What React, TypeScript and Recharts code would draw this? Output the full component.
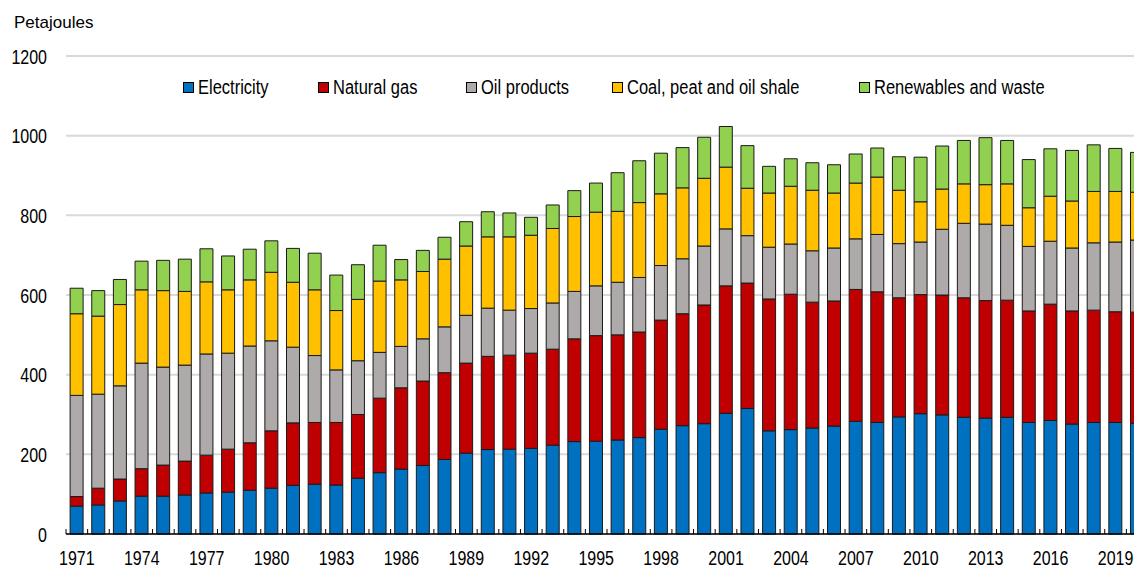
import React from 'react';
import { BarChart, Bar, XAxis, YAxis, CartesianGrid, Legend } from 'recharts';

const years = [
  1971, 1972, 1973, 1974, 1975, 1976, 1977, 1978, 1979, 1980,
  1981, 1982, 1983, 1984, 1985, 1986, 1987, 1988, 1989, 1990,
  1991, 1992, 1993, 1994, 1995, 1996, 1997, 1998, 1999, 2000,
  2001, 2002, 2003, 2004, 2005, 2006, 2007, 2008, 2009, 2010,
  2011, 2012, 2013, 2014, 2015, 2016, 2017, 2018, 2019, 2020,
];

const electricity = [
  70, 73, 83, 95, 95, 98, 103, 105, 110, 115,
  122, 125, 123, 140, 154, 163, 172, 187, 203, 212,
  213, 215, 223, 232, 233, 236, 242, 263, 272, 277,
  303, 315, 259, 262, 266, 271, 283, 280, 294, 302,
  299, 293, 291, 293, 280, 285, 276, 280, 280, 278,
];

const naturalGas = [
  24, 42, 55, 69, 78, 85, 95, 108, 119, 144,
  157, 155, 157, 160, 187, 204, 212, 218, 226, 234,
  236, 239, 241, 258, 265, 264, 265, 274, 281, 298,
  320, 315, 331, 340, 316, 314, 331, 328, 299, 299,
  301, 300, 295, 294, 280, 292, 284, 282, 278, 279,
];

const oilProducts = [
  254, 236, 234, 265, 246, 241, 254, 241, 243, 226,
  190, 168, 132, 135, 115, 104, 106, 115, 120, 121,
  113, 112, 116, 119, 125, 132, 137, 137, 138, 148,
  143, 119, 130, 126, 129, 133, 127, 144, 136, 132,
  165, 187, 192, 188, 162, 158, 158, 169, 175, 181,
];

const coalPeatOilShale = [
  205, 196, 204, 184, 192, 185, 181, 159, 166, 172,
  163, 165, 149, 154, 179, 167, 169, 170, 174, 179,
  184, 184, 187, 188, 185, 178, 188, 180, 178, 170,
  155, 119, 136, 145, 152, 138, 140, 144, 134, 101,
  101, 99, 99, 104, 97, 113, 118, 129, 127, 120,
];

const renewablesWaste = [
  64, 64, 63, 72, 76, 81, 83, 85, 77, 79,
  85, 92, 89, 87, 90, 51, 53, 55, 61, 63,
  60, 45, 59, 65, 73, 97, 105, 102, 101, 103,
  102, 107, 67, 69, 69, 71, 73, 73, 84, 112,
  108, 109, 118, 109, 121, 119, 127, 117, 108, 100,
];

const yTicks = [0, 200, 400, 600, 800, 1000, 1200];

const series = [
  { key: 'electricity', name: 'Electricity', color: '#0070C0' },
  { key: 'naturalGas', name: 'Natural gas', color: '#C00000' },
  { key: 'oilProducts', name: 'Oil products', color: '#ADAAA9' },
  { key: 'coal', name: 'Coal, peat and oil shale', color: '#FFC000' },
  { key: 'renewables', name: 'Renewables and waste', color: '#92D050' },
];

const data = years.map((year, i) => ({
  year,
  electricity: electricity[i],
  naturalGas: naturalGas[i],
  oilProducts: oilProducts[i],
  coal: coalPeatOilShale[i],
  renewables: renewablesWaste[i],
}));

const FONT = '"Liberation Sans", Arial, sans-serif';
const CHART_W = 1148;
const CHART_H = 568;
const Y_AXIS_W = 66;
const BAND = (CHART_W - Y_AXIS_W) / years.length;
// the original's labels are a tall, narrow face; stretch regular Arial to match
const STRETCH = 1.3;

// legend item widths so the swatches line up with the original
const legendWidths = [135, 148, 146, 247, 220];

const renderLegend = () => (
  <div style={{ display: 'flex', alignItems: 'center', fontFamily: FONT, fontSize: 16.5, color: '#000' }}>
    {series.map((s, i) => (
      <div key={s.key} style={{ display: 'flex', alignItems: 'center', width: legendWidths[i], lineHeight: '20px' }}>
        <span
          style={{
            display: 'inline-block',
            width: 9,
            height: 9,
            background: s.color,
            border: '1px solid #000',
            marginRight: 4,
          }}
        />
        <span style={{ whiteSpace: 'nowrap', display: 'inline-block', transform: 'scaleY(1.2)' }}>{s.name}</span>
      </div>
    ))}
  </div>
);

const YearTick = (props: any) => {
  const { x, y, payload } = props;
  const left = x - BAND / 2;
  const showLabel = (Number(payload.value) - 1971) % 3 === 0;
  return (
    <g>
      <line x1={left} x2={left} y1={y} y2={y - 5} stroke="#000" strokeWidth={1} />
      {showLabel && (
        <text
          transform={`translate(${x},${y + 31}) scale(1,${STRETCH})`}
          textAnchor="middle"
          fontSize={16}
          fontFamily={FONT}
          fill="#000"
        >
          {payload.value}
        </text>
      )}
    </g>
  );
};

const ValueTick = (props: any) => {
  const { x, y, payload } = props;
  return (
    <text
      transform={`translate(${x},${y + 7.5}) scale(1,${STRETCH})`}
      textAnchor="end"
      fontSize={16}
      fontFamily={FONT}
      fill="#000"
    >
      {payload.value}
    </text>
  );
};

export default function App() {
  return (
    <div
      style={{
        position: 'absolute',
        left: 0,
        top: 0,
        width: 1134,
        height: 568,
        overflow: 'hidden',
        background: '#fff',
        fontFamily: FONT,
      }}
    >
      <div style={{ position: 'absolute', left: 14, top: 13, fontSize: 17, color: '#000', zIndex: 2 }}>
        Petajoules
      </div>
      <BarChart
        width={CHART_W}
        height={CHART_H}
        data={data}
        margin={{ top: 56, right: 0, left: 0, bottom: 0 }}
        barCategoryGap="19%"
      >
        <CartesianGrid vertical={false} stroke="#d9d9d9" strokeWidth={2} />
        <XAxis
          dataKey="year"
          interval={0}
          height={34}
          tickSize={0}
          tickMargin={0}
          tickLine={false}
          axisLine={{ stroke: '#000', strokeWidth: 1.5 }}
          tick={<YearTick />}
        />
        <YAxis
          width={Y_AXIS_W}
          domain={[0, 1200]}
          ticks={yTicks}
          axisLine={false}
          tickLine={false}
          tickSize={0}
          tickMargin={19}
          tick={<ValueTick />}
        />
        <Legend
          layout="horizontal"
          verticalAlign="middle"
          align="center"
          content={renderLegend}
          wrapperStyle={{ top: 77, left: 183, width: 950 }}
        />
        {series.map((s) => (
          <Bar
            key={s.key}
            dataKey={s.key}
            name={s.name}
            stackId="a"
            fill={s.color}
            stroke="#1a1a1a"
            strokeWidth={1}
            isAnimationActive={false}
          />
        ))}
      </BarChart>
    </div>
  );
}
